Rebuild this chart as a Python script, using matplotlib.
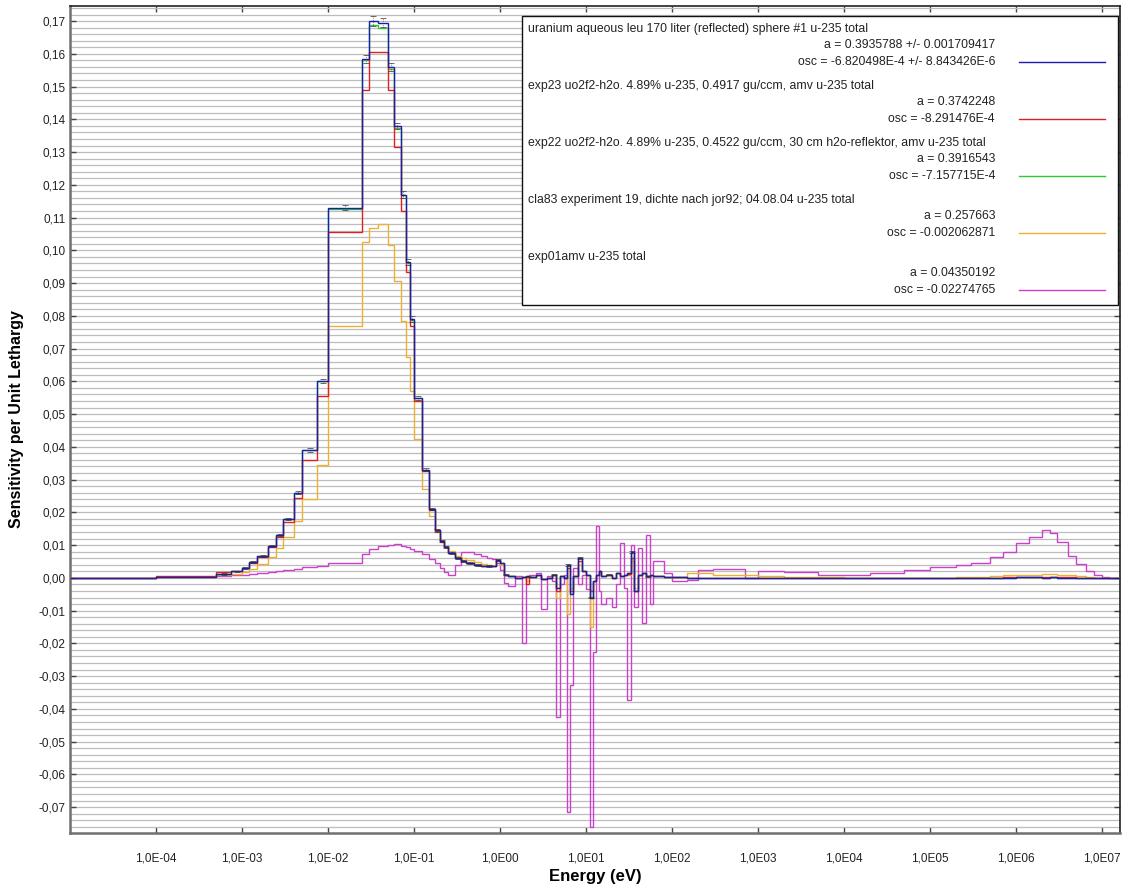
import numpy as np
import matplotlib
matplotlib.use("Agg")
import matplotlib.pyplot as plt
from matplotlib.ticker import FixedLocator, MultipleLocator, FuncFormatter
from matplotlib.lines import Line2D
from matplotlib.patches import Rectangle

plt.rcParams['font.family'] = ['Liberation Sans', 'DejaVu Sans']

### Data (group structure in eV, sensitivity per unit lethargy per group)

edges = [1e-5, 1e-4, 5e-4, 7.5e-4, 1e-3, 1.2e-3, 1.5e-3, 2e-3, 2.5e-3, 3e-3,
         4e-3, 5e-3, 7.5e-3, 1e-2, 2.5e-2, 3e-2, 3.8e-2, 5e-2, 5.8e-2, 7e-2,
         8e-2, 9e-2, 0.1, 0.125, 0.15, 0.175, 0.2, 0.225, 0.25, 0.3,
         0.35, 0.4, 0.5, 0.6, 0.7, 0.8, 0.9, 1.0, 1.1, 1.25,
         1.5, 1.8, 2.0, 2.2, 2.6, 3.0, 3.5, 4.0, 4.5, 5.0,
         5.5, 6.0, 6.5, 7.0, 8.0, 9.0, 10, 11, 12, 13,
         14, 15, 17, 20, 22.5, 25, 27.5, 30, 33, 36,
         40, 45, 50, 55, 60, 70, 80, 100, 120, 150,
         200, 300, 500, 700, 1e3, 2e3, 5e3, 1e4, 2e4, 5e4,
         1e5, 2e5, 3e5, 5e5, 7e5, 1e6, 1.4e6, 2e6, 2.5e6, 3e6,
         4e6, 5e6, 6.5e6, 8e6, 1e7, 1.2e7, 2e7]

sens_leu170 = [0.0, 0.0004, 0.0012, 0.002, 0.003, 0.0048, 0.0068, 0.0098, 0.013, 0.018,
               0.026, 0.039, 0.060, 0.113, 0.1585, 0.170, 0.1695, 0.156, 0.138, 0.117,
               0.0965, 0.079, 0.055, 0.033, 0.021, 0.0145, 0.0112, 0.0095, 0.0075, 0.006,
               0.0052, 0.0045, 0.004, 0.0037, 0.0035, 0.0035, 0.0055, 0.0045, 0.001, 0.0005,
               0.0, 0.0003, 0.0005, 0.0002, 0.0008, -0.0005, 0.0, 0.001, -0.003, 0.0005,
               0.0, 0.004, -0.005, 0.0005, 0.006, 0.002, 0.001, -0.006, -0.001, 0.001,
               0.002, 0.0005, 0.001, 0.0, 0.0015, 0.0005, 0.001, 0.0015, 0.008, -0.004,
               0.001, 0.0015, 0.0005, 0.001, 0.0005, 0.0005, 0.0003, 0.0003, 0.0002, 0.0001,
               0.0001, 0.0, 0.0, 0.0, 0.0, 0.0, 0.0, 0.0, 0.0, 0.0,
               0.0, 0.0, 0.0, 0.0, 0.0, 0.0002, 0.0002, 0.0001, 0.0002, 0.0001,
               0.0001, 0.0, 0.0, 0.0, 0.0, 0.0]

err_leu170 = [0.0, 0.0, 0.0002, 0.0002, 0.0002, 0.0002, 0.0003, 0.0003, 0.0003, 0.0004,
              0.0004, 0.0005, 0.0006, 0.0008, 0.0012, 0.0014, 0.0014, 0.0012, 0.001, 0.001,
              0.0009, 0.0008, 0.0006, 0.0005, 0.0004, 0.0004, 0.0003, 0.0003, 0.0003, 0.0003,
              0.0003, 0.0003, 0.0003, 0.0, 0.0003, 0.0, 0.0003, 0.0, 0.0002, 0.0,
              0.0, 0.0, 0.0002, 0.0, 0.0, 0.0, 0.0, 0.0002, 0.0, 0.0,
              0.0, 0.0003, 0.0, 0.0, 0.0003, 0.0, 0.0, 0.0003, 0.0, 0.0,
              0.0, 0.0, 0.0002, 0.0, 0.0, 0.0, 0.0, 0.0, 0.0003, 0.0,
              0.0, 0.0, 0.0002, 0.0, 0.0, 0.0, 0.0, 0.0, 0.0, 0.0,
              0.0, 0.0, 0.0, 0.0, 0.0, 0.0, 0.0, 0.0, 0.0, 0.0,
              0.0, 0.0, 0.0, 0.0, 0.0, 0.0, 0.0, 0.0, 0.0, 0.0,
              0.0, 0.0, 0.0, 0.0, 0.0, 0.0]

sens_exp23 = [0.0, 0.0005, 0.0017, 0.0022, 0.003, 0.0046, 0.0065, 0.0095, 0.0125, 0.0172,
              0.0245, 0.036, 0.0555, 0.1055, 0.149, 0.1606, 0.1606, 0.149, 0.1316, 0.112,
              0.0934, 0.077, 0.054, 0.0325, 0.0208, 0.0143, 0.011, 0.0094, 0.0075, 0.006,
              0.0052, 0.0046, 0.004, 0.0037, 0.0035, 0.0035, 0.0053, 0.0044, 0.001, 0.0005,
              0.0, 0.0003, -0.002, 0.0002, 0.0008, -0.0005, 0.0, 0.001, -0.004, 0.0005,
              0.0, 0.003, -0.004, 0.0005, 0.005, 0.002, 0.001, -0.004, -0.001, 0.001,
              0.002, 0.0005, 0.001, 0.0, 0.0015, 0.0005, 0.001, 0.0012, 0.006, -0.004,
              0.001, 0.0015, 0.0005, 0.001, 0.0005, 0.0005, 0.0003, 0.0003, 0.0002, 0.0001,
              0.0001, 0.0, 0.0, 0.0, 0.0, 0.0, 0.0, 0.0, 0.0, 0.0,
              0.0, 0.0, 0.0, 0.0, 0.0003, 0.0004, 0.0004, 0.0003, 0.0004, 0.0003,
              0.0002, 0.0001, 0.0, 0.0, 0.0, 0.0]

sens_exp22 = [0.0, 0.0004, 0.0012, 0.002, 0.003, 0.0048, 0.0068, 0.0098, 0.013, 0.018,
              0.026, 0.039, 0.060, 0.1125, 0.158, 0.1688, 0.168, 0.1555, 0.1375, 0.1168,
              0.0962, 0.0788, 0.0549, 0.033, 0.021, 0.0145, 0.0112, 0.0095, 0.0075, 0.006,
              0.0052, 0.0045, 0.004, 0.0037, 0.0035, 0.0035, 0.0055, 0.0045, 0.001, 0.0005,
              0.0, 0.0003, 0.0005, 0.0002, 0.0008, -0.0005, 0.0, 0.001, -0.003, 0.0005,
              0.0, 0.004, -0.005, 0.0005, 0.006, 0.002, 0.001, -0.006, -0.001, 0.001,
              0.002, 0.0005, 0.001, 0.0, 0.0015, 0.0005, 0.001, 0.0015, 0.008, -0.004,
              0.001, 0.0015, 0.0005, 0.001, 0.0005, 0.0005, 0.0003, 0.0003, 0.0002, 0.0001,
              0.0001, 0.0, 0.0, 0.0, 0.0, 0.0, 0.0, 0.0, 0.0, 0.0,
              0.0, 0.0, 0.0, 0.0, 0.0, 0.0002, 0.0002, 0.0001, 0.0002, 0.0001,
              0.0001, 0.0, 0.0, 0.0, 0.0, 0.0]

sens_cla83 = [0.0, 0.0003, 0.0008, 0.0012, 0.0018, 0.0028, 0.0042, 0.0065, 0.009, 0.0125,
              0.0175, 0.024, 0.0345, 0.077, 0.1025, 0.1068, 0.108, 0.1015, 0.0905, 0.0785,
              0.0675, 0.0571, 0.0425, 0.0272, 0.019, 0.014, 0.0115, 0.0098, 0.0082, 0.0068,
              0.006, 0.0054, 0.0047, 0.0042, 0.0038, 0.0036, 0.005, 0.004, 0.001, 0.0005,
              0.0, 0.0003, -0.001, 0.0002, 0.0008, -0.0005, 0.0, 0.001, -0.006, 0.0005,
              0.0, -0.011, -0.003, 0.0005, 0.004, 0.002, 0.001, -0.015, -0.001, 0.001,
              0.002, 0.0005, 0.001, 0.0, 0.0015, 0.0005, 0.001, 0.001, 0.005, -0.003,
              0.001, 0.0015, 0.0005, 0.001, 0.0005, 0.0005, 0.0003, 0.0003, 0.0002, 0.0015,
              0.0015, 0.001, 0.001, 0.0008, 0.0005, 0.0003, 0.0002, 0.0001, 0.0, 0.0,
              0.0, 0.0002, 0.0004, 0.0006, 0.0008, 0.0009, 0.001, 0.0012, 0.0012, 0.001,
              0.0008, 0.0005, 0.0003, 0.0001, 0.0, 0.0]

sens_exp01 = [0.0, 0.0003, 0.0006, 0.0008, 0.001, 0.0012, 0.0014, 0.0017, 0.002, 0.0023,
              0.0027, 0.0032, 0.0036, 0.0045, 0.0072, 0.0088, 0.0097, 0.0101, 0.0102, 0.0098,
              0.0093, 0.0088, 0.0082, 0.0072, 0.0058, 0.0046, 0.003, 0.0018, 0.0009, 0.004,
              0.008, 0.0078, 0.0072, 0.0068, 0.0062, 0.0058, 0.0045, 0.0024, -0.0015, -0.0026,
              0.0005, -0.0198, 0.0003, 0.001, 0.0015, -0.0095, 0.0005, -0.001, -0.0424, -0.002,
              0.001, -0.0714, -0.0327, 0.003, -0.002, 0.001, -0.0035, -0.076, -0.0226, 0.0159,
              -0.004, -0.008, -0.006, -0.009, -0.002, 0.0107, -0.003, -0.0373, 0.010, -0.009,
              0.009, -0.0138, 0.013, -0.008, 0.005, 0.005, 0.0015, -0.001, -0.001, -0.0008,
              0.0025, 0.0027, 0.0027, 0.0, 0.0022, 0.0018, 0.0009, 0.001, 0.0016, 0.0025,
              0.0033, 0.0038, 0.0045, 0.0065, 0.0078, 0.0105, 0.0125, 0.0145, 0.0138, 0.011,
              0.0068, 0.0042, 0.0022, 0.0009, 0.0003, 0.0]

leg_names = ['uranium aqueous leu 170 liter (reflected) sphere #1 u-235 total',
             'exp23 uo2f2-h2o. 4.89% u-235, 0.4917 gu/ccm, amv u-235 total',
             'exp22 uo2f2-h2o. 4.89% u-235, 0.4522 gu/ccm, 30 cm h2o-reflektor, amv u-235 total',
             'cla83 experiment 19, dichte nach jor92; 04.08.04 u-235 total',
             'exp01amv u-235 total']
leg_a = ['a = 0.3935788 +/- 0.001709417', 'a = 0.3742248', 'a = 0.3916543',
         'a = 0.257663', 'a = 0.04350192']
leg_osc = ['osc = -6.820498E-4 +/- 8.843426E-6', 'osc = -8.291476E-4',
           'osc = -7.157715E-4', 'osc = -0.002062871', 'osc = -0.02274765']

c_blue = '#1c1cb0'
c_red = '#e02020'
c_green = '#30c830'
c_orange = '#ecb032'
c_mag = '#cc3fcc'
colors = [c_blue, c_red, c_green, c_orange, c_mag]

### Figure
W, H = 1125, 885
fig = plt.figure(figsize=(W / 100, H / 100), dpi=100)
ax = fig.add_axes([70 / W, 1 - 833 / H, 1050 / W, 827 / H])

edges_a = np.array(edges)
lw = 1.0
ax.stairs(sens_exp01, edges_a, baseline=None, color=c_mag, lw=lw, zorder=2)
ax.stairs(sens_cla83, edges_a, baseline=None, color=c_orange, lw=lw, zorder=3)
ax.stairs(sens_exp22, edges_a, baseline=None, color=c_green, lw=lw, zorder=4)
ax.stairs(sens_exp23, edges_a, baseline=None, color=c_red, lw=lw, zorder=5)
ax.stairs(sens_leu170, edges_a, baseline=None, color=c_blue, lw=lw, zorder=6)

# error bars of the reference case
centers = np.sqrt(edges_a[:-1] * edges_a[1:])
err = np.array(err_leu170)
m = err > 0
eb = ax.errorbar(centers[m], np.array(sens_leu170)[m], yerr=err[m], fmt='none',
                 ecolor='#333333', elinewidth=0.5, capsize=2.5, capthick=0.5, zorder=7)
eb[2][0].set_linestyle(':')

ax.set_xscale('log')
ax.set_xlim(1e-5, 1.62e7)
ax.set_ylim(-0.0779, 0.1746)

ax.xaxis.set_major_locator(FixedLocator([10.0 ** k for k in range(-4, 8)]))
ax.xaxis.set_minor_locator(FixedLocator([]))


def fmt_x(v, pos):
    e = int(round(np.log10(v)))
    return '1,0E-%02d' % -e if e < 0 else '1,0E%02d' % e


def fmt_y(v, pos):
    s = '%.2f' % v
    if s == '-0.00':
        s = '0.00'
    return s.replace('.', ',')


ax.xaxis.set_major_formatter(FuncFormatter(fmt_x))
ax.yaxis.set_major_locator(MultipleLocator(0.01))
ax.yaxis.set_minor_locator(MultipleLocator(0.002))
ax.yaxis.set_major_formatter(FuncFormatter(fmt_y))

ax.tick_params(which='major', direction='in', top=True, right=True, length=4,
               width=1, colors='#444444', labelcolor='#222222', labelsize=8.5)
ax.tick_params(axis='x', pad=14)
ax.tick_params(axis='y', pad=3)
ax.tick_params(which='minor', length=0)

ax.grid(True, which='both', axis='y', color='#bdbdbd', lw=0.9)
ax.set_axisbelow(True)

for s in ['top', 'right']:
    ax.spines[s].set_color('#222222')
    ax.spines[s].set_linewidth(1.2)
for s in ['left', 'bottom']:
    ax.spines[s].set_color('#707070')
    ax.spines[s].set_linewidth(1.8)

ax.set_xlabel('Energy (eV)', fontsize=12, fontweight='bold')
ax.set_ylabel('Sensitivity per Unit Lethargy', fontsize=11.5, fontweight='bold')
ax.xaxis.set_label_coords(0.5, -0.044)
ax.yaxis.set_label_coords(-0.044, 0.5)

### Legend box
fig.add_artist(Rectangle((522 / W, 1 - 305 / H), (1118 - 522) / W, (305 - 16) / H,
                         transform=fig.transFigure, facecolor='white',
                         edgecolor='#111111', lw=1.0, zorder=5))
for i in range(5):
    y0 = 29 + 57 * i
    fig.text(528 / W, 1 - y0 / H, leg_names[i], ha='left', va='center',
             fontsize=8.8, color='#222222', zorder=6)
    fig.text(995 / W, 1 - (y0 + 16) / H, leg_a[i], ha='right', va='center',
             fontsize=8.8, color='#222222', zorder=6)
    fig.text(995 / W, 1 - (y0 + 33) / H, leg_osc[i], ha='right', va='center',
             fontsize=8.8, color='#222222', zorder=6)
    fig.add_artist(Line2D([1019 / W, 1105 / W], [1 - (y0 + 33) / H] * 2,
                          transform=fig.transFigure, color=colors[i], lw=1.0, zorder=6))

fig.savefig('out.png', dpi=100)
